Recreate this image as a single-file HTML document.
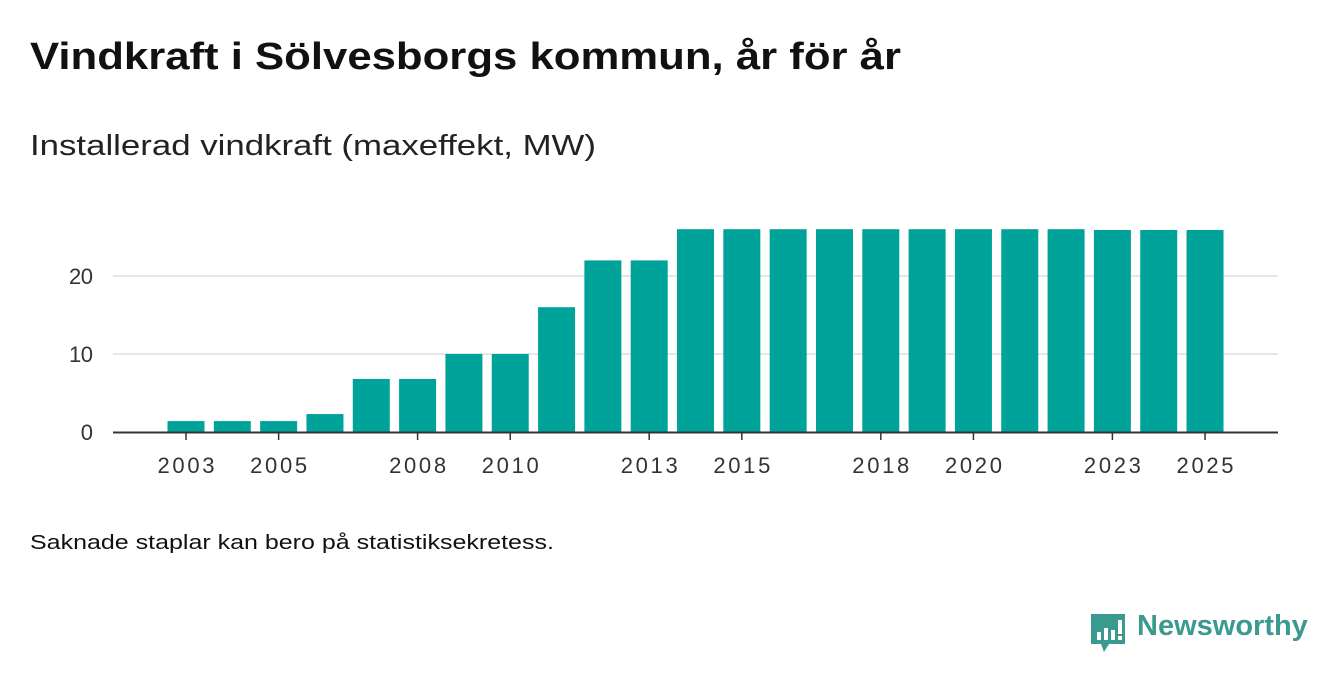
<!DOCTYPE html>
<html><head><meta charset="utf-8"><style>
body{margin:0;width:1340px;height:685px;background:#fff;font-family:"Liberation Sans",sans-serif;color:#222;position:relative;overflow:hidden}
.t{position:absolute;left:30px;top:36px;font-size:38px;font-weight:bold;color:#111;transform:scaleX(1.15);transform-origin:left top;white-space:nowrap}
.s{position:absolute;left:30px;top:130px;font-size:29px;color:#222;transform:scaleX(1.2);transform-origin:left top;white-space:nowrap}
.f{position:absolute;left:30px;top:532px;font-size:20px;color:#111;transform:scaleX(1.25);transform-origin:left top;white-space:nowrap}
.logo{position:absolute;left:1137px;top:610px;font-size:29px;font-weight:bold;color:#3a9a90}
</style></head><body>
<div class="t">Vindkraft i Sölvesborgs kommun, år för år</div>
<div class="s">Installerad vindkraft (maxeffekt, MW)</div>
<svg id="c" width="1340" height="685" style="position:absolute;left:0;top:0"></svg>
<div class="f">Saknade staplar kan bero på statistiksekretess.</div>
<svg style="position:absolute;left:1089px;top:612px" width="38" height="42">
<path d="M2 2h34v30H20l-5 8-3-8H2z" fill="#3a9a90"/>
<rect x="8" y="20" width="4" height="8" fill="#fff"/><rect x="15" y="16" width="4" height="12" fill="#fff"/><rect x="22" y="18" width="4" height="10" fill="#fff"/><rect x="29" y="8" width="4" height="14" fill="#fff"/><rect x="29" y="24" width="4" height="4" fill="#fff"/>
</svg>
<div class="logo">Newsworthy</div>
<script>
const years=[2003,2004,2005,2006,2007,2008,2009,2010,2011,2012,2013,2014,2015,2016,2017,2018,2019,2020,2021,2022,2023,2024,2025];
const values=[1.4,1.4,1.4,2.3,6.8,6.8,10,10,16,22,22,26,26,26,26,26,26,26,26,26,25.9,25.9,25.9];
const yTicks=[0,10,20];
const xTicks=[2003,2005,2008,2010,2013,2015,2018,2020,2023,2025];
const ns="http://www.w3.org/2000/svg",svg=document.getElementById('c');
const x=y=>186+(y-2003)*46.32, yS=v=>432-v*7.8;
function el(t,a){const e=document.createElementNS(ns,t);for(const k in a)e.setAttribute(k,a[k]);svg.appendChild(e);return e;}
yTicks.forEach(v=>{
 if(v>0){const g=el('line',{x1:113,x2:1278,y1:yS(v),y2:yS(v),stroke:'#ddd','stroke-width':1.5});
 
 }
 const t=el('text',{x:93,y:yS(v)+8,'text-anchor':'end','font-size':22,fill:'#333','font-family':'Liberation Sans',textLength:v>0?24:12});t.textContent=v;
 
 
});
years.forEach((yr,i)=>{
 const b=el('rect',{x:x(yr)-18.5,y:yS(values[i]),width:37,height:432-yS(values[i]),fill:'#00a39a'});
 
 
});
const ax=el('line',{x1:113,x2:1278,y1:432.5,y2:432.5,stroke:'#333','stroke-width':2});


xTicks.forEach(yr=>{
 const tk=el('line',{x1:x(yr),x2:x(yr),y1:432,y2:440,stroke:'#333','stroke-width':1.5});
 
 
 const t=el('text',{x:x(yr),y:473,'text-anchor':'middle','font-size':22,fill:'#333','font-family':'Liberation Sans',textLength:57});t.textContent=yr;
 
 
});
</script>
</body></html>
